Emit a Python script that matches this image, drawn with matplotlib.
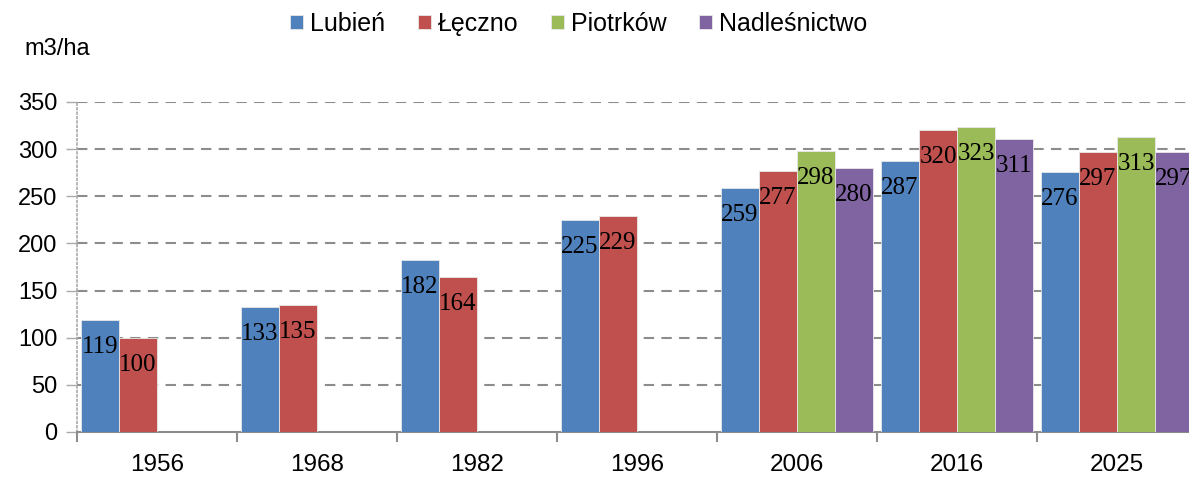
import numpy as np
import matplotlib.pyplot as plt

years = ["1956", "1968", "1982", "1996", "2006", "2016", "2025"]
series_names = ["Lubień", "Łęczno", "Piotrków", "Nadleśnictwo"]
lubien = [119, 133, 182, 225, 259, 287, 276]
leczno = [100, 135, 164, 229, 277, 320, 297]
piotrkow = [np.nan, np.nan, np.nan, np.nan, 298, 323, 313]
nadlesnictwo = [np.nan, np.nan, np.nan, np.nan, 280, 311, 297]
colors = ["#4F81BD", "#C0504D", "#9BBB59", "#8064A2"]

sans = "Liberation Sans"
serif = "Liberation Serif"

fig = plt.figure(figsize=(11.89, 4.78), dpi=100)
ax = fig.add_axes([77 / 1189, 46 / 478, 7 * 160 / 1189, 330 / 478])

width = 0.2375
pad = 0.025
groups = np.arange(len(years))
for k, (name, vals, col) in enumerate(zip(series_names,
                                           [lubien, leczno, piotrkow, nadlesnictwo],
                                           colors)):
    vals = np.array(vals, dtype=float)
    x = groups + pad + k * width
    ax.bar(x, np.nan_to_num(vals), width=width, align="edge", color=col,
           edgecolor="#e8e8e8", linewidth=0.6, label=name, zorder=3)
    for xi, v in zip(x, vals):
        if np.isnan(v):
            continue
        ax.annotate(f"{v:.0f}", (xi + width / 2, v), xytext=(0, -27),
                    textcoords="offset pixels", ha="center", va="center",
                    fontsize=18, family=serif, color="black", zorder=4)

ax.set_xlim(0, 7)
ax.set_ylim(0, 350)
ax.set_yticks(range(0, 351, 50))
ax.set_yticklabels([str(v) for v in range(0, 351, 50)], family=sans, fontsize=17)
for y in range(50, 351, 50):
    ax.axhline(y, color="#8c8c8c", lw=1.5, ls=(0, (5, 3.5)), zorder=1)

ax.set_xticks(np.arange(0, 8))
ax.set_xticklabels([])
ax.set_xticks(groups + 0.5, minor=True)
ax.set_xticklabels(years, minor=True, family=sans, fontsize=17.5)
ax.tick_params(axis="x", which="major", length=7, width=1.5, color="#8c8c8c", direction="out")
ax.tick_params(axis="x", which="minor", length=0, pad=16)
ax.tick_params(axis="y", length=8, width=1, color="#aaaaaa", pad=6)

for s in ["top", "right"]:
    ax.spines[s].set_visible(False)
ax.spines["bottom"].set_color("#8c8c8c")
ax.spines["bottom"].set_linewidth(1.5)
ax.spines["left"].set_color("#aaaaaa")
ax.spines["left"].set_linestyle(":")
ax.spines["left"].set_linewidth(1.2)

fig.text(24 / 1189, 1 - 49 / 478, "m3/ha", family=sans, fontsize=17, va="center", ha="left")

fig.legend(loc="center", bbox_to_anchor=(579 / 1189, 1 - 24 / 478), ncol=4, frameon=False,
           prop={"family": sans, "size": 18}, handlelength=0.5, handleheight=0.5,
           handletextpad=0.3, columnspacing=1.3)

fig.savefig("out.png", dpi=100)
